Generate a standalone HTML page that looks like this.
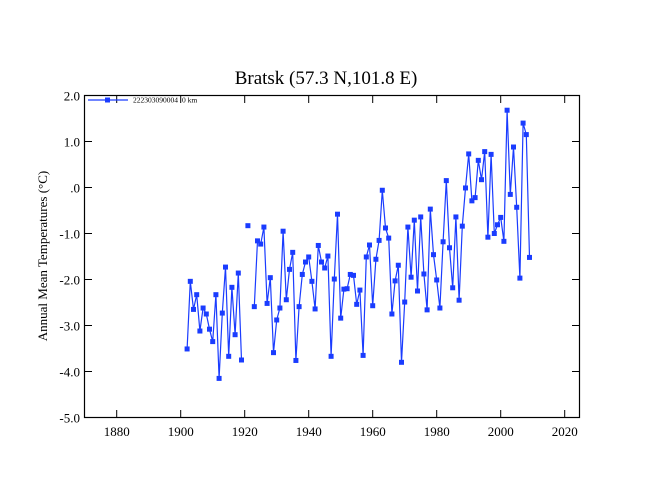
<!DOCTYPE html>
<html><head><meta charset="utf-8"><style>
body{margin:0;background:#fff}
svg{display:block;font-family:"Liberation Serif",serif}
</style></head><body>
<svg id="chart" width="650" height="502">
<text x="326" y="84" text-anchor="middle" font-size="19">Bratsk (57.3 N,101.8 E)</text>
<text transform="translate(47,256) rotate(-90)" text-anchor="middle" font-size="13">Annual Mean Temperatures (°C)</text>
<rect x="84.5" y="95.5" width="495" height="322" fill="none" stroke="#000" stroke-width="1.2"/>
<g id="axes"></g>
<g id="series"></g>
<g>
<line x1="88" y1="100" x2="128" y2="100" stroke="#1a3cff" stroke-width="1.2"/>
<rect x="105" y="97.5" width="5" height="5" fill="#1a3cff"/>
<text x="133" y="102.5" font-size="7.5">222303090004<tspan dx="4">0 km</tspan></text>
</g>
</svg>
<script>
const years=[];for(let y=1902;y<=2009;y++)years.push(y);
const temps=[-3.51,-2.04,-2.65,-2.33,-3.12,-2.62,-2.75,-3.08,-3.35,-2.33,-4.15,-2.73,-1.73,-3.67,-2.17,-3.2,-1.86,-3.75,null,-0.83,null,-2.59,-1.16,-1.23,-0.86,-2.52,-1.96,-3.59,-2.88,-2.62,-0.95,-2.44,-1.78,-1.41,-3.76,-2.59,-1.89,-1.62,-1.51,-2.04,-2.64,-1.26,-1.62,-1.75,-1.49,-3.67,-1.99,-0.58,-2.84,-2.21,-2.2,-1.89,-1.91,-2.54,-2.23,-3.65,-1.51,-1.25,-2.57,-1.56,-1.15,-0.06,-0.88,-1.1,-2.75,-2.03,-1.69,-3.8,-2.49,-0.86,-1.95,-0.71,-2.25,-0.64,-1.88,-2.66,-0.47,-1.46,-2.01,-2.62,-1.18,0.15,-1.31,-2.18,-0.64,-2.45,-0.84,-0.01,0.73,-0.29,-0.22,0.59,0.17,0.78,-1.08,0.72,-1.0,-0.81,-0.65,-1.17,1.68,-0.15,0.88,-0.43,-1.97,1.4,1.15,-1.52];
const xTicks=[1880,1900,1920,1940,1960,1980,2000,2020];
const yTicks=[2,1,0,-1,-2,-3,-4,-5];
const yLabels=["2.0","1.0",".0","-1.0","-2.0","-3.0","-4.0","-5.0"];
const X=v=>116.7+(v-1880)*3.2;
const Y=v=>95.5+(2-v)*46;
const NS="http://www.w3.org/2000/svg";
function mk(t,a,p){const e=document.createElementNS(NS,t);for(const k in a)e.setAttribute(k,a[k]);p.appendChild(e);return e;}
const ax=document.getElementById('axes'),se=document.getElementById('series');
xTicks.forEach(t=>{const x=X(t);
 let l=mk('line',{x1:x,y1:417.5,x2:x,y2:410,stroke:'#000'},ax);
 
 
 let l2=mk('line',{x1:x,y1:95.5,x2:x,y2:103,stroke:'#000'},ax);
 
 
 const tx=mk('text',{x:x,y:436,'text-anchor':'middle','font-size':13},ax);tx.textContent=t;
 
 
});
yTicks.forEach((t,i)=>{const y=Y(t);
 let l=mk('line',{x1:84.5,y1:y,x2:92,y2:y,stroke:'#000'},ax);
 
 
 let l2=mk('line',{x1:579.5,y1:y,x2:572,y2:y,stroke:'#000'},ax);
 
 
 const tx=mk('text',{x:80,y:y+5,'text-anchor':'end','font-size':13},ax);tx.textContent=yLabels[i];
 
 
});
let seg=[];const segs=[];
years.forEach((yr,i)=>{if(temps[i]===null){if(seg.length)segs.push(seg);seg=[];}else seg.push([X(yr),Y(temps[i])]);});
if(seg.length)segs.push(seg);
segs.forEach(s=>{if(s.length<2)return;
 const p=mk('polyline',{points:s.map(q=>q.join(',')).join(' '),fill:'none',stroke:'#1a3cff','stroke-width':1.2},se);
 
 
});
years.forEach((yr,i)=>{if(temps[i]===null)return;
 const r=mk('rect',{x:X(yr)-2.5,y:Y(temps[i])-2.5,width:5,height:5,fill:'#1a3cff'},se);
 
 
});
</script>
</body></html>
